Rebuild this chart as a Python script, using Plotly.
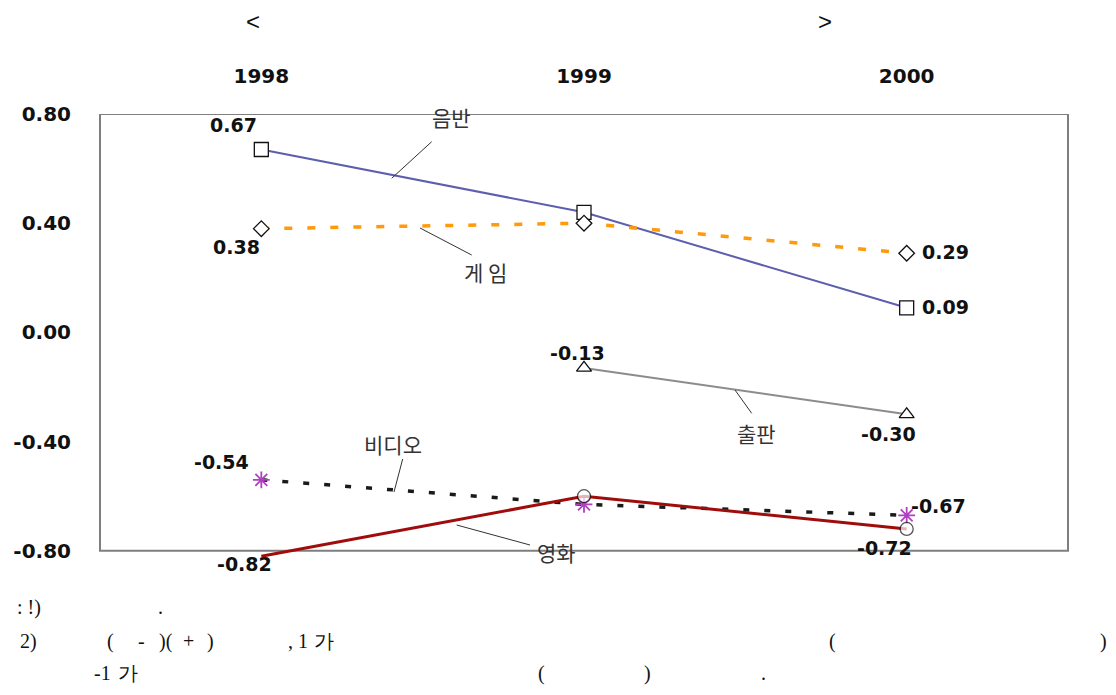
import plotly.graph_objects as go

years = ["1998", "1999", "2000"]
records = [0.67, 0.44, 0.09]      # 음반
games = [0.38, 0.40, 0.29]        # 게임
publishing = [None, -0.13, -0.30] # 출판
video = [-0.54, -0.63, -0.67]     # 비디오
film = [-0.82, -0.60, -0.72]      # 영화
ytick_vals = [-0.8, -0.4, 0.0, 0.4, 0.8]
ytick_text = ["-0.80", "-0.40", "0.00", "0.40", "0.80"]

OFF = 8  # page body margin
W, H = 1116 - 2 * OFF, 695 - 2 * OFF
ML, MT = 100 - OFF, 114 - OFF
MR = W - (1068 - OFF)
MB = H - (559 - OFF)
PW, PH = W - ML - MR, H - MT - MB


def pp(px, py):
    return (px - OFF - ML) / PW, (H - MB - (py - OFF)) / PH


fig = go.Figure()

fig.add_trace(go.Scatter(x=years, y=records, mode="lines+markers",
                         line=dict(color="#5d5fae", width=2),
                         marker=dict(symbol="square", size=14, color="white",
                                     line=dict(color="#111", width=1.3))))
fig.add_trace(go.Scatter(x=years, y=games, mode="lines+markers",
                         line=dict(color="#ff9a0a", width=3.5, dash="8px,15px"),
                         marker=dict(symbol="diamond", size=12, color="white",
                                     line=dict(color="#111", width=1.3))))
fig.add_trace(go.Scatter(x=years, y=publishing, mode="lines+markers",
                         line=dict(color="#8c8c8c", width=2),
                         marker=dict(symbol="triangle-up", size=13, color="white",
                                     line=dict(color="#111", width=1.3))))
fig.add_trace(go.Scatter(x=years, y=video, mode="lines+markers",
                         line=dict(color="#1a1a1a", width=3.5, dash="6px,15px"),
                         marker=dict(symbol="asterisk-open", size=14, color="#b040c0",
                                     line=dict(color="#b040c0", width=1.8))))
fig.add_trace(go.Scatter(x=years, y=film, mode="lines+markers",
                         line=dict(color="#a00c0c", width=3),
                         marker=dict(symbol="circle", size=[0, 13, 13], color="white",
                                     line=dict(color="#111", width=1.3))))

# frame
fig.add_shape(type="rect", xref="paper", yref="y", x0=0, x1=1, y0=-0.8, y1=0.8,
              line=dict(color="#7f7f7f", width=2), layer="below")

numfont = dict(family="DejaVu Sans", size=19, color="#111", weight="bold")


def vlabel(i, vals, dx, dy):
    fig.add_annotation(x=i, y=vals[i], xref="x", yref="y",
                       text=f"{vals[i]:.2f}", showarrow=False, font=numfont,
                       xshift=dx, yshift=-dy, xanchor="center", yanchor="middle")


vlabel(0, records, -28, -24)
vlabel(2, records, 39, -1)
vlabel(0, games, -25, 18)
vlabel(2, games, 39, -1)
vlabel(1, publishing, -7, -15)
vlabel(2, publishing, -18, 20)
vlabel(0, video, -40, -18)
vlabel(2, video, 32, -9)
vlabel(0, film, -17, 8)
vlabel(2, film, -22, 19)

# series names with leader lines
korfont = dict(family="Noto Sans CJK KR", size=21, color="#333")
names = [("음반", 451, 117, (431.7, 141.7, 391.7, 178.3)),
         ("게 임", 485, 272, (420, 228, 471.7, 255)),
         ("출판", 756, 433, (735, 390, 751.7, 413.3)),
         ("비디오", 393, 444, (402.7, 459, 394, 492)),
         ("영화", 556, 552, (456.7, 525, 530, 545))]
for t, tx, ty, (x0, y0, x1, y1) in names:
    ax, ay = pp(tx, ty)
    fig.add_annotation(x=ax, y=ay, xref="paper", yref="paper", text=t,
                       showarrow=False, font=korfont, xanchor="center", yanchor="middle")
    a0, b0 = pp(x0, y0)
    a1, b1 = pp(x1, y1)
    fig.add_shape(type="line", xref="paper", yref="paper", x0=a0, y0=b0, x1=a1, y1=b1,
                  line=dict(color="#333", width=1))

# title brackets
for t, tx, ty in [("<", 253, 22), (">", 825, 22)]:
    ax, ay = pp(tx, ty)
    fig.add_annotation(x=ax, y=ay, xref="paper", yref="paper", text=t, showarrow=False,
                       font=dict(family="Liberation Sans", size=24, color="#111"),
                       xanchor="center", yanchor="middle")

# footnotes
serif = dict(family="Liberation Serif", size=20, color="#111")
notes = [(": !)", 15, 607, "left"), (".", 160, 607, "center"),
         ("2)", 18, 641, "left"), ("(", 110, 641, "center"), ("-", 141, 641, "center"),
         (")(", 166, 641, "center"), ("+", 188, 641, "center"), (")", 210, 641, "center"),
         (", 1", 286, 641, "left"), ("가", 324, 641, "center"), ("(", 832, 641, "center"),
         (")", 1103, 641, "center"),
         ("-1", 92, 673, "left"), ("가", 128, 673, "center"), ("(", 541, 673, "center"),
         (")", 647, 673, "center"), (".", 763, 673, "center")]
for t, tx, ty, anc in notes:
    ax, ay = pp(tx, ty)
    fig.add_annotation(x=ax, y=ay, xref="paper", yref="paper", text=t, showarrow=False,
                       font=serif, xanchor=anc, yanchor="middle")

fig.update_layout(
    width=W, height=H,
    margin=dict(l=ML, r=MR, t=MT, b=MB, autoexpand=False),
    paper_bgcolor="white", plot_bgcolor="white",
    showlegend=False,
    xaxis=dict(type="category", categoryorder="array", categoryarray=years,
               range=[-0.5, 2.5], side="top", showgrid=False, zeroline=False,
               automargin=False,
               showline=False, ticks="outside", ticklen=22, tickcolor="rgba(0,0,0,0)",
               tickfont=dict(family="DejaVu Sans", size=20, color="#111", weight="bold")),
    yaxis=dict(range=[-0.83, 0.8], tickvals=ytick_vals, ticktext=ytick_text,
               showgrid=False, zeroline=False, showline=False, automargin=False,
               ticks="outside", ticklen=24, tickcolor="rgba(0,0,0,0)",
               tickfont=dict(family="DejaVu Sans", size=20, color="#111", weight="bold")),
)

fig.write_html("out.html")
